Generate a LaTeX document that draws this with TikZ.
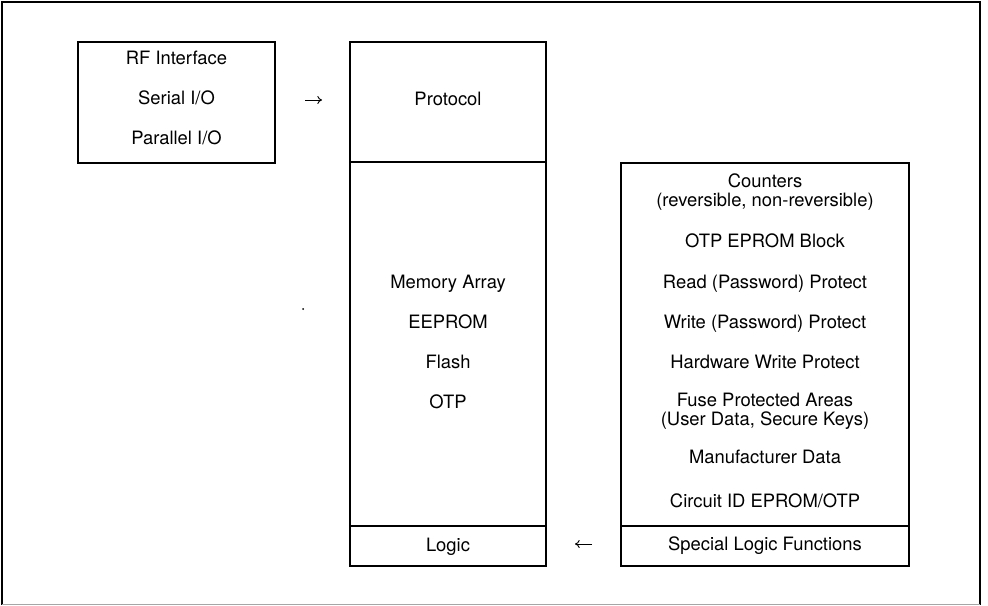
\documentclass[tikz,border=0pt]{standalone}
\usepackage{fontspec}
\setmainfont{TeX Gyre Heros}
\usetikzlibrary{fit,arrows.meta}
\begin{document}
\begin{tikzpicture}[x=0.75pt,y=-0.75pt,
  box/.style={draw=black,line width=1.1pt,inner sep=0pt},
  lbl/.style={anchor=base,inner sep=0pt,font=\fontsize{13.8pt}{16pt}\selectfont},
  conn/.style={-{To[length=3.5pt,width=6pt]},line width=0.7pt}]
\useasboundingbox (0,0) rectangle (988,606);
% outer frame
\draw[line width=1.1pt] (2,605) -- (2,2) -- (980,2) -- (980,605);
\draw[line width=0.6pt,black!35] (2,604) -- (980,604);
% boxes
\node[box,fit={(78,42)(275,163)}] (io) {};
\node[box,fit={(350,42)(546,162)}] (proto) {};
\node[box,fit={(350,162)(546,526)}] (mem) {};
\node[box,fit={(350,526)(546,566)}] (logic) {};
\node[box,fit={(621,163)(909,526)}] (feat) {};
\node[box,fit={(621,526)(909,566)}] (slf) {};
% left box texts
\node[lbl] (t1) at (176.5,65) {RF Interface};
\node[lbl] (t2) at (176.5,105) {Serial I/O};
\node[lbl] (t3) at (176.5,145) {Parallel I/O};
% middle texts
\node[lbl] (m1) at (448,106) {Protocol};
\node[lbl] (m2) at (448,288) {Memory Array};
\node[lbl] (m3) at (448,328) {EEPROM};
\node[lbl] (m4) at (448,368) {Flash};
\node[lbl] (m5) at (448,408) {OTP};
\node[lbl] (m6) at (448,551) {Logic};
% right texts
\node[lbl] (r1) at (765,187) {Counters};
\node[lbl] (r2) at (765,206) {(reversible, non-reversible)};
\node[lbl] (r3) at (765,247) {OTP EPROM Block};
\node[lbl] (r4) at (765,288) {Read (Password) Protect};
\node[lbl] (r5) at (765,328) {Write (Password) Protect};
\node[lbl] (r6) at (765,368) {Hardware Write Protect};
\node[lbl] (r7) at (765,406) {Fuse Protected Areas};
\node[lbl] (r8) at (765,425) {(User Data, Secure Keys)};
\node[lbl] (r9) at (765,463) {Manufacturer Data};
\node[lbl] (r10) at (765,507) {Circuit ID EPROM/OTP};
\node[lbl] (r11) at (765,550) {Special Logic Functions};
% arrows
\coordinate (a1s) at (305,100);
\coordinate (a1e) at (322,100);
\coordinate (a2s) at (592,544);
\coordinate (a2e) at (575,544);
\draw[conn] (a1s) -- (a1e);
\draw[conn] (a2s) -- (a2e);
% stray dot
\fill (303,309) circle (1);
\end{tikzpicture}
\end{document}
